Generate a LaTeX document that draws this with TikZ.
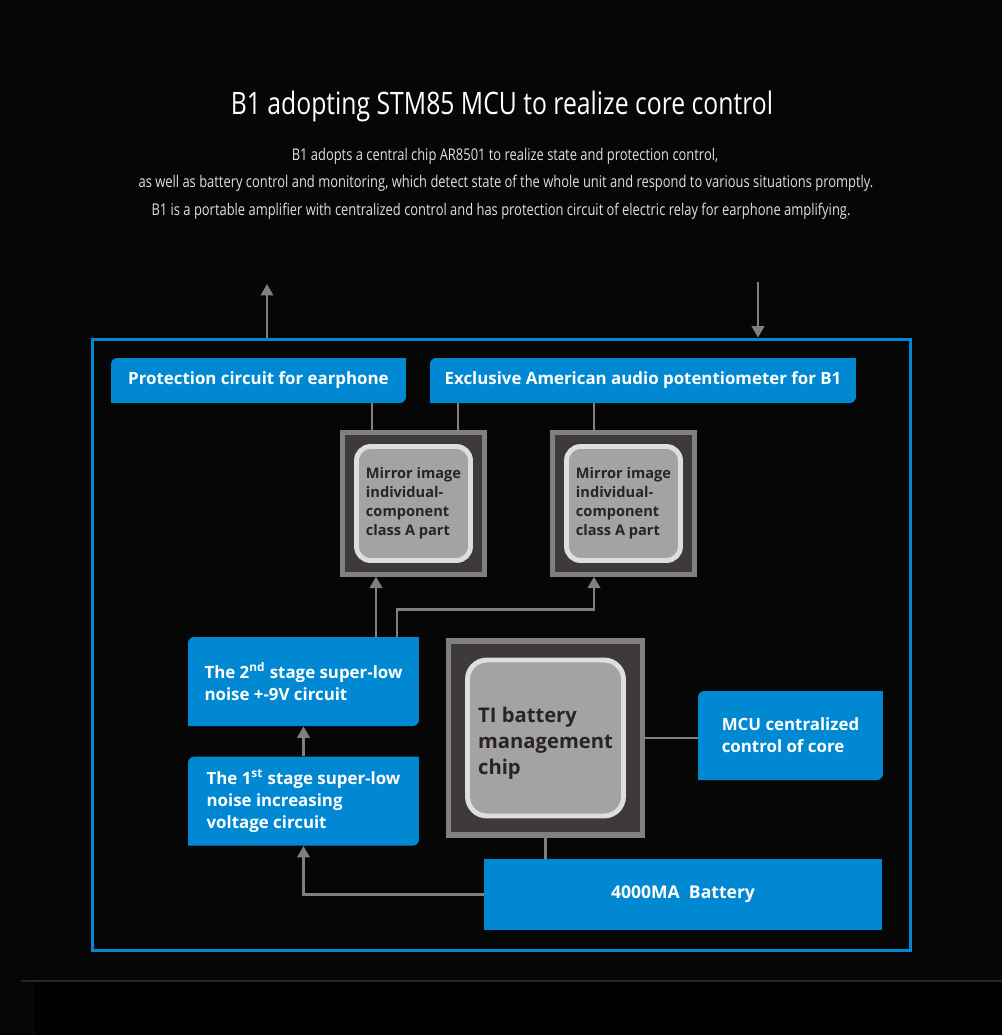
\documentclass[tikz,border=0pt]{standalone}
\usepackage{fontspec}
\setmainfont{Open Sans}
\newfontfamily\headfont[FakeStretch=0.8]{Open Sans}
\usetikzlibrary{arrows.meta,positioning}
\definecolor{bgdark}{RGB}{6,6,6}
\definecolor{boxblue}{RGB}{0,137,210}
\definecolor{chipdark}{RGB}{62,58,58}
\definecolor{chipgray}{RGB}{163,163,163}
\definecolor{chipedge}{RGB}{222,222,222}
\definecolor{chiptext}{RGB}{42,35,35}
\definecolor{wiregray}{RGB}{128,128,128}

\begin{document}
\begin{tikzpicture}[
    x=0.02cm, y=-0.02cm,
    boxtext/.style={rectangle, inner sep=0pt, align=left, text=white, font=\bfseries\fontsize{9.6}{12.5}\selectfont},
    bluebox/.style={boxtext, path picture={
        \fill[boxblue] (path picture bounding box.south west)
            -- ([yshift=-3.5pt]path picture bounding box.north west)
            arc[start angle=180, end angle=90, radius=3.5pt]
            -- (path picture bounding box.north east)
            -- ([yshift=3.5pt]path picture bounding box.south east)
            arc[start angle=0, end angle=-90, radius=3.5pt] -- cycle;}},
    battbox/.style={boxtext, fill=boxblue},
    chipframe/.style={rectangle, draw=wiregray, fill=chipdark, line width=2.8pt, minimum size=#1},
    chipcore/.style={rectangle, rounded corners=8pt, draw=chipedge, fill=chipgray, line width=2.8pt, minimum size=#1, align=left, text=chiptext, font=\bfseries\fontsize{8.3}{10.8}\selectfont},
    wire/.style={draw=wiregray, line width=1.6pt},
    arrow/.style={wire, -{Triangle[width=7pt,length=6.5pt]}}
]
    \fill[bgdark] (0,0) rectangle (1002,1035);
    \fill[black] (35,982) rectangle (1002,1035);
    \draw[color=black!85!white, line width=0.6pt] (21,981) -- (1002,981);

    % heading
    \node (title) at (502,106) [text=white, font=\headfont\fontsize{17.6}{20}\selectfont] {B1 adopting STM85 MCU to realize core control};
    \node (sub1) at (505,156) [text=white!88!black, font=\headfont\fontsize{9.2}{11}\selectfont] {B1 adopts a central chip AR8501 to realize state and protection control,};
    \node (sub2) at (506,183) [text=white!88!black, font=\headfont\fontsize{9.2}{11}\selectfont] {as well as battery control and monitoring, which detect state of the whole unit and respond to various situations promptly.};
    \node (sub3) at (501,211) [text=white!88!black, font=\headfont\fontsize{9.2}{11}\selectfont] {B1 is a portable amplifier with centralized control and has protection circuit of electric relay for earphone amplifying.};

    % outer frame
    \node (frame) at (501.5,645) [draw=boxblue, line width=1.7pt, minimum width=16.38cm, minimum height=12.24cm] {};

    % blocks
    \node (protect) at (258.5,380.5) [bluebox, minimum width=5.9cm, minimum height=0.9cm] {Protection circuit for earphone};
    \node (pot) at (643,380.5) [bluebox, minimum width=8.52cm, minimum height=0.9cm] {Exclusive American audio potentiometer for B1};

    \node (chipA) at (413.5,503.5) [chipframe=2.83cm] {};
    \node (coreA) at (chipA.center) [chipcore=2.28cm] {Mirror image\\individual-\\component\\class A part};
    \node (chipB) at (623.5,503.5) [chipframe=2.83cm] {};
    \node (coreB) at (chipB.center) [chipcore=2.28cm] {Mirror image\\individual-\\component\\class A part};

    \node (stage2) at (303.5,681.5) [bluebox, minimum width=4.62cm, minimum height=1.78cm] {The 2\textsuperscript{nd} stage super-low\\noise +-9V circuit};
    \node (stage1) [bluebox, below=0.6cm of stage2, minimum width=4.62cm, minimum height=1.78cm] {The 1\textsuperscript{st} stage super-low\\noise increasing\\voltage circuit};

    \node (tichip) at (545.5,738) [chipframe=3.88cm, line width=3.3pt] {};
    \node (ticore) at (tichip.center) [chipcore=3.12cm, rounded corners=11pt, font=\bfseries\fontsize{11.5}{14.7}\selectfont] {\rule{0pt}{15pt}TI battery\\management\\chip};

    \node (mcu) at (790.5,735.5) [bluebox, minimum width=3.7cm, minimum height=1.78cm] {MCU centralized\\control of core};
    \node (batt) at (683,894.5) [battbox, minimum width=7.96cm, minimum height=1.42cm, font=\bfseries\fontsize{10}{12.5}\selectfont] {4000MA\ \ Battery};

    % tap points
    \coordinate (outtop) at (267,284);
    \coordinate (intop) at (758,282);
    \coordinate (xa) at (372,0);
    \coordinate (xb) at (458,0);
    \coordinate (xc) at (594,0);
    \coordinate (xd) at (376,0);
    \coordinate (xe) at (397,0);

    % connectors
    \draw[arrow] (frame.north -| outtop) -- (outtop);
    \draw[arrow] (intop) -- (frame.north -| intop);
    \draw[wire] (protect.south -| xa) -- (chipA.north -| xa);
    \draw[wire] (pot.south -| xb) -- (chipA.north -| xb);
    \draw[wire] (pot.south -| xc) -- (chipB.north -| xc);
    \draw[arrow] (stage2.north -| xd) -- (chipA.south -| xd);
    \draw[arrow] (stage2.north -| xe) -- ++(0,-27) -| (chipB.south -| xc);
    \draw[arrow] (stage1) -- (stage2);
    \draw[arrow] (batt.west) -| (stage1.south);
    \draw[wire] (tichip.south) -- (batt.north -| tichip.south);
    \draw[wire] (tichip.east) -- (tichip.east -| mcu.west);
\end{tikzpicture}
\end{document}
